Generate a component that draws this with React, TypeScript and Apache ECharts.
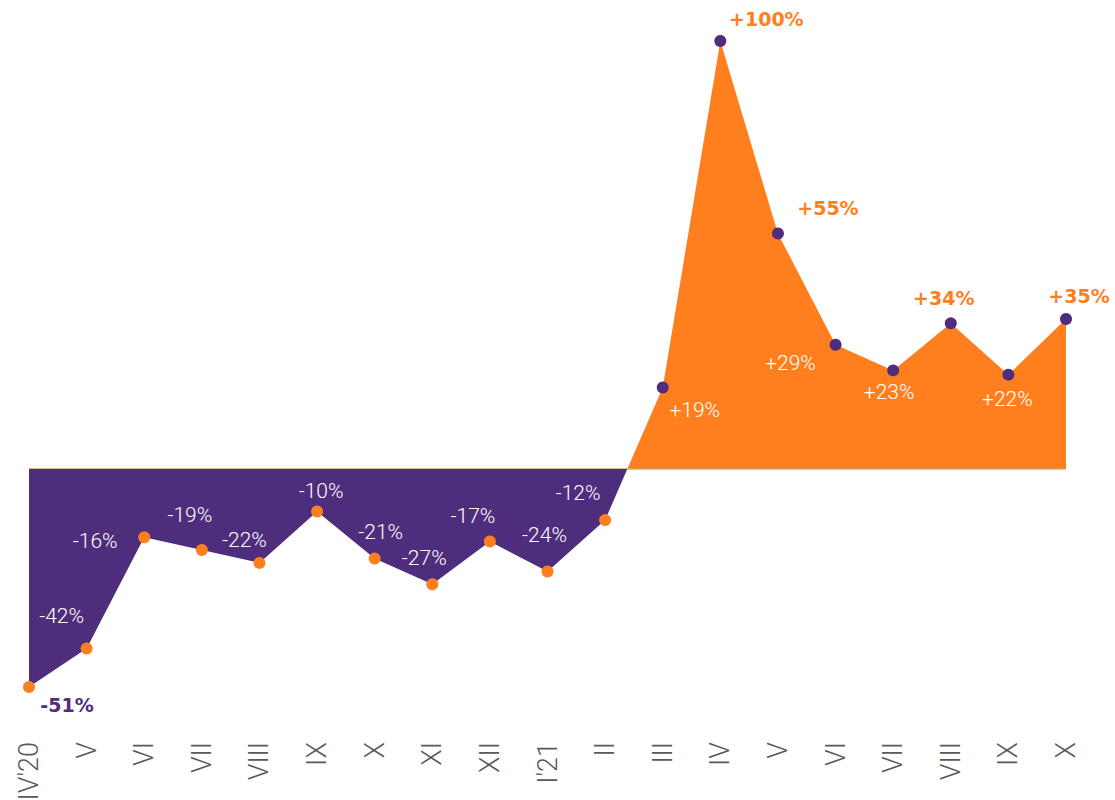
import React, { useEffect, useRef } from "react";
import * as echarts from "echarts";

const months = ["IV'20", "V", "VI", "VII", "VIII", "IX", "X", "XI", "XII", "I'21", "II", "III", "IV", "V", "VI", "VII", "VIII", "IX", "X"];
const changes = [-51, -42, -16, -19, -22, -10, -21, -27, -17, -24, -12, 19, 100, 55, 29, 23, 34, 22, 35];
const highlighted = [0, 12, 13, 16, 18];
const labelOffsets: [number, number][] = [
  [38, 18], [-25, -32], [-49, 4], [-12, -35], [-15, -23], [4, -21], [6, -27], [-8, -26], [-17, -26], [-3, -36], [-27, -27],
  [32, 22], [46, -22], [50, -26], [-45, 18], [-4, 22], [-7, -25], [-1, 24], [13, -23],
];

const PURPLE = "#4E2D7C";
const ORANGE = "#FF7F1F";

export default function App() {
  const ref = useRef<HTMLDivElement>(null);
  useEffect(() => {
    if (!ref.current) return;
    const chart = echarts.init(ref.current, null, { renderer: "svg" });
    const fmt = (v: number) => (v > 0 ? "+" : "") + v + "%";
    chart.setOption({
      animation: false,
      grid: { left: 29, right: 49, top: 41, bottom: 66, outerBoundsMode: "none", containLabel: false },
      xAxis: {
        type: "category",
        data: months,
        boundaryGap: false,
        axisLine: { show: false, onZero: false },
        axisTick: { show: false },
        axisLabel: {
          rotate: 90,
          margin: 8,
          color: "#5a5a5a",
          fontSize: 27,
          fontFamily: "Roboto",
          fontWeight: 300,
          interval: 0,
        },
      },
      yAxis: { type: "value", min: -62, max: 100, show: false },
      visualMap: {
        type: "piecewise",
        show: false,
        seriesIndex: 0,
        dimension: 1,
        pieces: [
          { gte: -1000, lt: 0, color: PURPLE },
          { gte: 0, lte: 1000, color: ORANGE },
        ],
      },
      series: [
        {
          type: "line",
          data: changes,
          z: 2,
          showSymbol: false,
          lineStyle: { width: 0, opacity: 0 },
          areaStyle: { opacity: 1 },
          markLine: {
            z: 1,
            silent: true,
            symbol: "none",
            label: { show: false },
            lineStyle: { color: "#cccccc", width: 2, type: "solid" },
            data: [{ yAxis: 0 }],
          },
        },
        {
          type: "scatter",
          z: 3,
          symbolSize: 12,
          itemStyle: { opacity: 1 },
          data: changes.map((v, i) => {
            const hi = highlighted.includes(i);
            return {
              value: v,
              itemStyle: { color: v < 0 ? ORANGE : PURPLE, opacity: 1 },
              label: {
                show: true,
                position: "inside",
                offset: labelOffsets[i],
                formatter: fmt(v),
                fontFamily: hi ? "DejaVu Sans" : "Roboto",
                fontSize: hi ? 19 : 21,
                fontWeight: hi ? "bold" : 300,
                color: hi ? (v < 0 ? PURPLE : ORANGE) : "#ffffff",
                opacity: 1,
              },
            };
          }),
        },
      ],
    });
    return () => chart.dispose();
  }, []);
  return <div ref={ref} style={{ position: "absolute", left: 0, top: 0, width: 1115, height: 800 }} />;
}
